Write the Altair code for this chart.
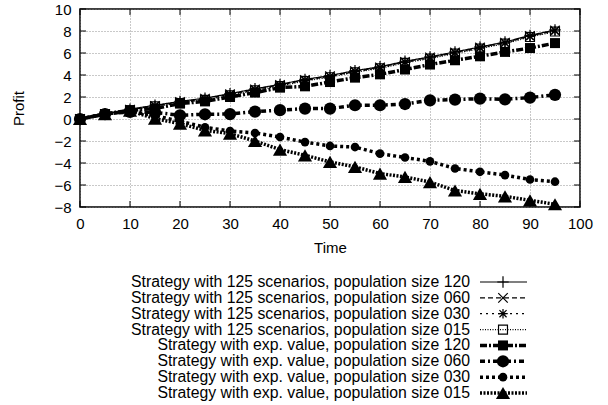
import altair as alt
import pandas as pd

# ---------------- data ----------------
time = [0, 5, 10, 15, 20, 25, 30, 35, 40, 45, 50, 55, 60, 65, 70, 75, 80, 85, 90, 95]

names = [
    "Strategy with 125 scenarios, population size 120",
    "Strategy with 125 scenarios, population size 060",
    "Strategy with 125 scenarios, population size 030",
    "Strategy with 125 scenarios, population size 015",
    "Strategy with exp. value, population size 120",
    "Strategy with exp. value, population size 060",
    "Strategy with exp. value, population size 030",
    "Strategy with exp. value, population size 015",
]

s125_120 = [0.0, 0.45, 0.9, 1.25, 1.6, 1.9, 2.3, 2.75, 3.15, 3.6, 3.95, 4.4, 4.75, 5.25, 5.65, 6.1, 6.55, 7.0, 7.6, 8.1]
s125_060 = [0.0, 0.45, 0.85, 1.2, 1.55, 1.85, 2.25, 2.7, 3.1, 3.55, 3.9, 4.35, 4.7, 5.2, 5.6, 6.05, 6.5, 6.95, 7.55, 8.05]
s125_030 = [0.0, 0.45, 0.85, 1.2, 1.5, 1.8, 2.2, 2.65, 3.05, 3.5, 3.85, 4.3, 4.65, 5.15, 5.55, 6.0, 6.45, 6.9, 7.5, 8.0]
s125_015 = [0.0, 0.45, 0.8, 1.15, 1.45, 1.75, 2.15, 2.6, 3.0, 3.45, 3.8, 4.25, 4.6, 5.1, 5.5, 5.95, 6.4, 6.85, 7.45, 7.95]
sexp_120 = [0.0, 0.45, 0.8, 0.95, 1.4, 1.6, 2.0, 2.4, 2.85, 2.97, 3.36, 3.76, 4.06, 4.5, 4.95, 5.34, 5.7, 6.1, 6.45, 6.9]
sexp_060 = [0.0, 0.45, 0.65, 0.6, 0.34, 0.43, 0.45, 0.67, 0.8, 0.95, 0.95, 1.25, 1.25, 1.36, 1.7, 1.76, 1.85, 1.79, 1.95, 2.2]
sexp_030 = [0.0, 0.45, 0.7, 0.3, -0.2, -0.75, -1.1, -1.27, -1.64, -2.1, -2.45, -2.55, -3.15, -3.5, -3.85, -4.5, -4.8, -5.1, -5.5, -5.7]
sexp_015 = [0.0, 0.45, 0.75, 0.03, -0.42, -1.03, -1.33, -2.0, -2.78, -3.3, -3.9, -4.35, -4.96, -5.27, -5.73, -6.5, -6.8, -7.03, -7.4, -7.75]

series_values = [s125_120, s125_060, s125_030, s125_015, sexp_120, sexp_060, sexp_030, sexp_015]

x_ticks = [0, 10, 20, 30, 40, 50, 60, 70, 80, 90, 100]
y_ticks = [-8, -6, -4, -2, 0, 2, 4, 6, 8, 10]

# ---------------- styles ----------------
FONT = "Liberation Sans"
FS = 15
LFS = 15.8
dashes = [[1, 0], [5, 3], [2, 4], [1, 1.5], [7, 2, 2, 2], [5, 3, 2, 3], [3, 3], [2, 1.5]]
PLUS = "M-1,0L1,0M0,-1L0,1"
CROSS = "M-1,-1L1,1M-1,1L1,-1"
STAR = "M-1,0L1,0M0,-1L0,1M-0.75,-0.75L0.75,0.75M-0.75,0.75L0.75,-0.75"
shapes = [PLUS, CROSS, STAR, "square", "square", "circle", "circle", "triangle-up"]
sizes = [130, 90, 90, 80, 100, 150, 75, 200]
filled = [False, False, False, False, True, True, True, True]

rows = []
for name, vals in zip(names, series_values):
    for t, v in zip(time, vals):
        rows.append({"series": name, "time": t, "profit": v})
df = pd.DataFrame(rows)
leg = pd.DataFrame({"series": names})

thin = names[:4]
thick = names[4:]

dash_scale = alt.Scale(domain=names, range=dashes)

W, H = 500, 198

x_enc = alt.X(
    "time:Q",
    scale=alt.Scale(domain=[0, 100], nice=False, zero=False),
    axis=alt.Axis(values=x_ticks, title="Time", grid=True, ticks=False, labelPadding=9,
                  labelFlush=False, titleY=40, titleBaseline="middle", domain=False),
)
y_enc = alt.Y(
    "profit:Q",
    scale=alt.Scale(domain=[-8, 10], nice=False, zero=False),
    axis=alt.Axis(values=y_ticks, title="Profit", grid=True, ticks=False, labelPadding=9,
                  labelFlush=False, titleX=-62, titleY=H / 2, titleBaseline="middle", domain=False),
)
y_noaxis = alt.Y("profit:Q", scale=alt.Scale(domain=[-8, 10], nice=False, zero=False), axis=None)
dash_enc = alt.StrokeDash("series:N", scale=dash_scale, legend=None)

base = alt.Chart(df)
layers = []

layers.append(base.transform_filter(alt.FieldOneOfPredicate(field="series", oneOf=thin)).mark_line(
    color="black", strokeWidth=1.2
).encode(x=x_enc, y=y_enc, strokeDash=dash_enc, detail="series:N"))

layers.append(base.transform_filter(alt.FieldOneOfPredicate(field="series", oneOf=thick)).mark_line(
    color="black", strokeWidth=3.5
).encode(x=x_enc, y=y_noaxis, strokeDash=dash_enc, detail="series:N"))

for name, shp, sz, fl in zip(names, shapes, sizes, filled):
    layers.append(base.transform_filter(alt.datum.series == name).mark_point(
        shape=shp, size=sz, filled=fl, color="black", strokeWidth=1.2, opacity=1
    ).encode(x=x_enc, y=y_noaxis))

# inward ticks
xt = pd.DataFrame({"time": x_ticks})
yt = pd.DataFrame({"profit": y_ticks})
layers.append(alt.Chart(xt).mark_rule(color="black", strokeWidth=1).encode(x=x_enc, y=alt.value(H), y2=alt.value(H - 6)))
layers.append(alt.Chart(xt).mark_rule(color="black", strokeWidth=1).encode(x=x_enc, y=alt.value(0), y2=alt.value(6)))
layers.append(alt.Chart(yt).mark_rule(color="black", strokeWidth=1).encode(y=y_noaxis, x=alt.value(0), x2=alt.value(6)))
layers.append(alt.Chart(yt).mark_rule(color="black", strokeWidth=1).encode(y=y_noaxis, x=alt.value(W), x2=alt.value(W - 6)))

# custom legend below the plot (symbol to the right of the label)
leg_y = alt.Y("series:N", scale=alt.Scale(type="point", domain=names, range=[273, 384], padding=0), axis=None)
leg_base = alt.Chart(leg)
layers.append(leg_base.mark_text(align="right", baseline="middle", font=FONT, fontSize=LFS, color="black").encode(
    x=alt.value(390), y=leg_y, text="series:N"
))
layers.append(leg_base.transform_filter(alt.FieldOneOfPredicate(field="series", oneOf=thin)).mark_rule(
    color="black", strokeWidth=1.2
).encode(x=alt.value(400), x2=alt.value(447), y=leg_y, strokeDash=dash_enc))
layers.append(leg_base.transform_filter(alt.FieldOneOfPredicate(field="series", oneOf=thick)).mark_rule(
    color="black", strokeWidth=3.5
).encode(x=alt.value(400), x2=alt.value(447), y=leg_y, strokeDash=dash_enc))
for name, shp, sz, fl in zip(names, shapes, sizes, filled):
    layers.append(leg_base.transform_filter(alt.datum.series == name).mark_point(
        shape=shp, size=sz, filled=fl, color="black", strokeWidth=1.2, opacity=1
    ).encode(x=alt.value(423), y=leg_y))

chart = alt.layer(*layers).resolve_scale(y="independent").properties(
    width=W, height=H,
    autosize=alt.AutoSizeParams(type="none"),
    padding={"left": 80, "top": 9, "right": 28, "bottom": 198},
    background="white",
).configure_view(
    stroke="black", strokeWidth=1.5
).configure_axis(
    labelFont=FONT, titleFont=FONT, labelFontSize=FS, titleFontSize=FS,
    labelColor="black", titleColor="black", titleFontWeight="normal",
    gridColor="#777777", gridDash=[1, 2], gridWidth=0.8, gridOpacity=1,
)

chart.save("out.html", embed_options={"renderer": "svg", "actions": False})
